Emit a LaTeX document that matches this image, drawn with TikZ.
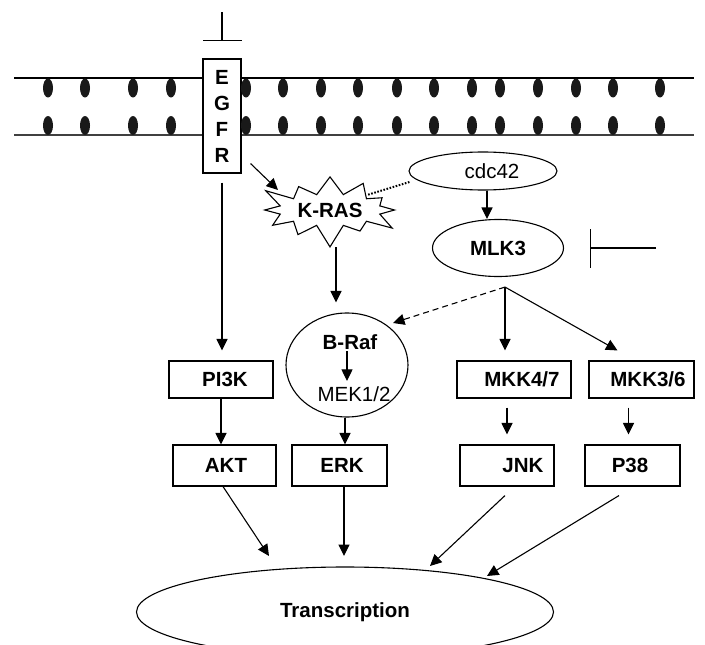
\documentclass[tikz,border=0pt]{standalone}
\usepackage{fontspec}
\setmainfont{Liberation Sans}
\usetikzlibrary{arrows.meta,shapes.geometric,shapes.symbols}

\newcommand{\pathfont}{\fontsize{20.5}{26}\selectfont}

\begin{document}
\begin{tikzpicture}[x=1pt,y=-1pt,line width=1.1pt,font=\pathfont,
	arrow/.style={-{Triangle[length=11.5pt,width=11pt]}},
	inhibit/.style={-{Bar[width=39pt]}},
	kinase/.style={draw,rectangle,inner sep=0pt,font=\pathfont\bfseries},
	blob/.style={draw,ellipse,inner sep=0pt}]
	
	\clip (0,0) rectangle (705,645);
	
	% Define the membrane
	\draw[line width=1.3pt] (14,78) -- (694,78);
	\draw[line width=1.3pt,black!75] (14,135) -- (694,135);
	\node[kinase,fill=white,minimum width=38pt,minimum height=114pt,align=center] (egfr) at (222,116) {E\\G\\F\\R};
	\foreach \x in {48,85,133,171,246,283,321,358,397,434,472,500,538,576,613,660}
	{
		\fill[black!90] (\x,88) ellipse [x radius=5pt,y radius=9.5pt];
		\fill[black!90] (\x,125.5) ellipse [x radius=5pt,y radius=9.5pt];
	}
	
	% Inhibitors
	\coordinate (egfrin) at (222,12);
	\coordinate (egfrbar) at (222,41);
	\draw[inhibit] (egfrin) -- (egfrbar);
	\coordinate (mlkin) at (656,248);
	\coordinate (mlkbar) at (590,248);
	\draw[inhibit] (mlkin) -- (mlkbar);
	
	% Upstream nodes
	\node[draw,starburst,starburst points=12,starburst point height=24pt,minimum width=125pt,minimum height=78pt,inner sep=4pt,font=\pathfont\bfseries] (kras) at (330,210) {K-RAS};
	\node[blob,minimum width=148pt,minimum height=38pt] (cdc42) at (483,171) {\hspace*{18pt}cdc42};
	\node[blob,minimum width=131pt,minimum height=57pt,font=\pathfont\bfseries] (mlk3) at (498,248) {MLK3};
	\node[blob,minimum width=122pt,minimum height=104pt] (braf) at (347,365) {};
	\node[inner sep=1pt,font=\pathfont\bfseries] (braftext) at (350,342) {B-Raf};
	\node[inner sep=1pt] (mek) at (354,394) {MEK1/2};
	
	% Kinases
	\node[kinase,minimum width=104pt,minimum height=37pt] (pi3k) at (221,379.5) {\hspace*{8pt}PI3K};
	\node[kinase,minimum width=103pt,minimum height=41pt] (akt) at (224.5,465.5) {\hspace*{3pt}AKT};
	\node[kinase,minimum width=95pt,minimum height=41pt] (erk) at (339.5,465.5) {\hspace*{5pt}ERK};
	\node[kinase,minimum width=114pt,minimum height=37pt] (mkk47) at (514,379.5) {\hspace*{16pt}MKK4/7};
	\node[kinase,minimum width=105pt,minimum height=37pt] (mkk36) at (641.5,379.5) {\hspace*{13pt}MKK3/6};
	\node[kinase,minimum width=94pt,minimum height=41pt] (jnk) at (507,465.5) {\hspace*{32pt}JNK};
	\node[kinase,minimum width=95pt,minimum height=41pt] (p38) at (632.5,465.5) {P38\hspace*{5pt}};
	\node[blob,minimum width=417pt,minimum height=90pt,font=\pathfont\bfseries] (trans) at (345,612) {Transcription};
	
	% EGFR and K-RAS signalling
	\draw[arrow,shorten <=9pt,shorten >=10pt] (egfr.south) -- (egfr.south |- pi3k.north);
	\draw[arrow] ([xshift=9pt,yshift=10pt]egfr.south east) -- ([xshift=-52pt,yshift=20pt]kras.center);
	\draw[line width=2pt,dash pattern=on 1.6pt off 1.6pt] ([xshift=1pt,yshift=-11pt]cdc42.west) -- ([xshift=37pt,yshift=15pt]kras.center);
	\draw[arrow] ([xshift=4pt]cdc42.south) -- ([xshift=4pt]cdc42.south |- mlk3.north);
	\draw[arrow] ([xshift=6pt,yshift=-37pt]kras.center) -- ([xshift=-11pt,yshift=10pt]braf.north);
	\draw[arrow,shorten >=4pt] (braftext.south -| braf.center) -- (mek.north -| braf.center);
	\draw[arrow] ([xshift=-2pt]braf.south) -- ([xshift=-2pt]braf.south |- erk.north);
	\draw[arrow] (pi3k.south) -- (pi3k.south |- akt.north);
	
	% MLK3 branches
	\coordinate (mlkfork) at ([xshift=7pt,yshift=-10pt]mlk3.south);
	\draw[arrow,dash pattern=on 6pt off 4pt] (mlkfork) -- ([xshift=46pt,yshift=42pt]braf.center);
	\draw[arrow,shorten >=10pt] (mlkfork) -- (mlkfork |- mkk47.north);
	\draw[arrow] (mlkfork) -- ([xshift=-24pt,yshift=10pt]mkk36.north);
	\draw[arrow,shorten <=9pt,shorten >=10pt] (mkk47.south -| jnk.north) -- (jnk.north);
	\draw[arrow,shorten <=9pt,shorten >=10pt] ([xshift=-4pt]mkk36.south -| p38.north) -- ([xshift=-4pt]p38.north);
	
	% To transcription
	\draw[arrow] ([xshift=-1.5pt]akt.south) -- ([xshift=-76pt,yshift=56pt]trans.center);
	\draw[arrow] ([xshift=4.5pt]erk.south) -- ([xshift=-1pt,yshift=56pt]trans.center);
	\draw[arrow] ([xshift=-2pt,yshift=-9pt]jnk.south) -- ([xshift=85pt,yshift=46pt]trans.center);
	\draw[arrow] ([xshift=-13.5pt,yshift=-9pt]p38.south) -- ([xshift=142pt,yshift=36pt]trans.center);
	
\end{tikzpicture}
\end{document}
